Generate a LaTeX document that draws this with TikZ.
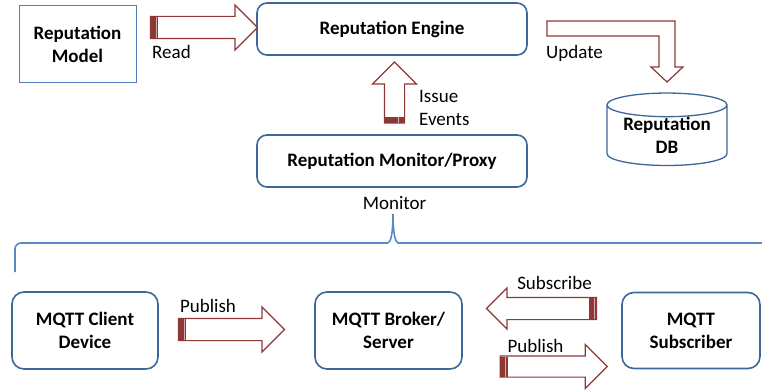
\documentclass[tikz,border=0pt]{standalone}
\usepackage{fontspec}
\setmainfont{Carlito}
\usetikzlibrary{shapes.geometric,shapes.arrows,calc}
\definecolor{cBox}  {RGB}{62,102,152}
\definecolor{cModel}{RGB}{82,126,186}
\definecolor{cBrace}{RGB}{88,138,198}
\definecolor{cArr}  {RGB}{142,56,53}
\tikzset{
  box/.style={draw=cBox,line width=1.6pt,rounded corners=10pt,align=center,
              font=\fontsize{19}{23}\selectfont\bfseries,inner sep=0pt},
  sqbox/.style={box,draw=cModel,line width=1pt,sharp corners},
  dbbox/.style={box,sharp corners,cylinder,shape border rotate=90,aspect=0.27,line width=1.3pt},
  blk/.style={single arrow,draw=cArr,fill=white,line width=1.2pt,inner xsep=0pt,
              inner ysep=10.5pt,single arrow head extend=11.5pt}, % hollow block arrow
  tailband/.style={fill=cArr,inner sep=0pt,minimum width=8pt,minimum height=21pt,anchor=west,
              path picture={\draw[cArr!40!white,line width=0.8pt]
                ($(path picture bounding box.north west)!0.72!(path picture bounding box.north east)$) --
                ($(path picture bounding box.south west)!0.72!(path picture bounding box.south east)$);}},
  lbl/.style={font=\fontsize{19}{23}\selectfont,inner sep=0pt,align=left},
  brace/.style={draw=cBrace,line width=1.6pt},
}
\begin{document}
\begin{tikzpicture}[x=1pt,y=-1pt]
  \useasboundingbox (0,0) rectangle (762,390);
  % reputation side
  \node[sqbox,minimum width=117,minimum height=77] (model) at (77.5,44.5) {Reputation\\Model};
  \node[box,minimum width=270,minimum height=52]  (engine) at (392,29) {Reputation Engine};
  \node[box,minimum width=270,minimum height=52]  (monitor) at (392,161) {Reputation Monitor/Proxy};
  \node[dbbox,minimum width=120,minimum height=54] (db) at (667,135.5) {Reputation\\DB};
  % block arrows
  \node[blk,minimum height=107] (readarr) at (198.5,27.5) {};
  \node[tailband] at (readarr.tail) {};
  \node[lbl,anchor=west] (readlbl) at (152,52) {Read};
  \node[blk,rotate=90,inner ysep=9.5pt,single arrow head extend=12pt,minimum height=61] (issuearr) at (394.5,97.5) {};
  \node[tailband,rotate=90,minimum width=6pt,minimum height=19pt] at (issuearr.tail) {};
  \node[lbl,anchor=west] (issuelbl) at (419,107.5) {Issue\\Events};
  \draw[draw=cArr,fill=white,line width=1.2pt] (547,21) -- (675,21) -- (675,67) -- (683,67)
    -- (667,82) -- (651,67) -- (659,67) -- (659,36) -- (547,36) -- cycle;
  \node[lbl,anchor=west] (updlbl) at (546,53) {Update};
  % monitor brace
  \node[lbl] (monlbl) at (394.5,203) {Monitor};
  \coordinate (peak) at (393,214);
  \draw[brace,rounded corners=6pt] (15,272) -- (15,243) -- (388,243);
  \draw[brace] (388,243) .. controls (391,242) and (393,232) .. (peak)
    .. controls (393,232) and (395,242) .. (398,243) -- (762,243);
  % mqtt side
  \node[box,rounded corners=12pt,minimum width=146,minimum height=77] (client) at (85,330.5) {MQTT Client\\Device};
  \node[box,rounded corners=12pt,minimum width=147,minimum height=77] (broker) at (388.5,330.5) {MQTT Broker/\\Server};
  \node[box,rounded corners=12pt,minimum width=138,minimum height=76] (subscr) at (691,330.5) {MQTT\\Subscriber};
  \node[blk,minimum height=106] (pubarr) at (226,329.5) {};
  \node[tailband] at (pubarr.tail) {};
  \node[lbl] (publbl) at (208,306) {Publish};
  \node[blk,rotate=180,single arrow head extend=9.5pt,minimum height=110] (subarr) at (547,308.5) {};
  \node[tailband,rotate=180] at (subarr.tail) {};
  \node[lbl] (sublbl) at (554.5,283) {Subscribe};
  \node[blk,inner ysep=10pt,minimum height=107] (pub2arr) at (548.5,366.5) {};
  \node[tailband,minimum height=20pt] at (pub2arr.tail) {};
  \node[lbl] (pub2lbl) at (535.5,346) {Publish};
\end{tikzpicture}
\end{document}
